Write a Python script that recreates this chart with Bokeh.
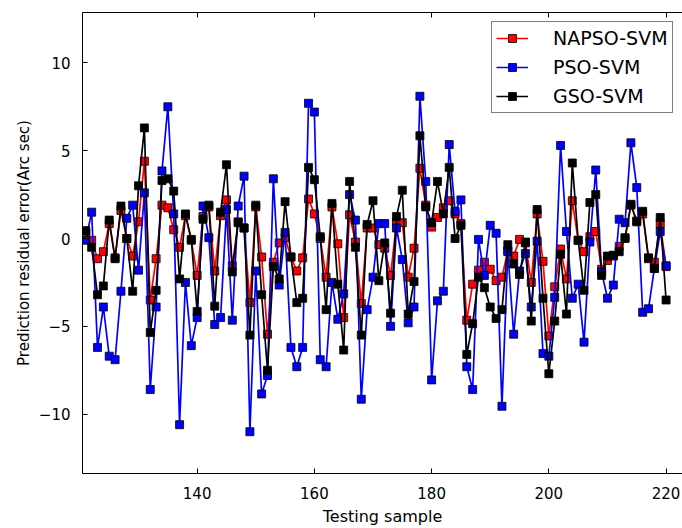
from bokeh.plotting import figure
from bokeh.models import (Range1d, LinearAxis, SingleIntervalTicker, Legend,
                          LegendItem, CustomJSTickFormatter)
from bokeh.embed import file_html
from bokeh.resources import INLINE

# ---------------- data ----------------
samples = list(range(121, 221))

napso = [0.3, -0.1, -1.15, -0.75, 0.85, -1.1, 1.6, 0.0, -1.0, 0.95,
         4.4, -3.5, -1.15, 1.9, 1.75, 0.5, -0.5, 1.3, -0.1, -2.1,
         1.25, 1.8, -1.85, 1.3, 2.2, -1.55, 0.95, 0.6, -3.65, 1.8,
         -1.05, -5.45, -1.35, -0.25, 0.05, -1.05, -1.85, -1.1, 2.25, 1.4,
         0.0, -2.2, 1.8, -0.3, -4.5, 1.35, -0.2, -3.7, 0.6, 0.6,
         -0.35, -0.55, -2.1, 0.9, 0.9, -2.2, -0.55, 4.0, 1.9, 0.65,
         1.2, 1.75, 2.15, 1.4, 0.85, -4.65, -2.6, -1.8, -1.35, -1.75,
         -2.4, -2.2, -0.7, -1.0, -0.05, -0.25, -2.5, 1.4, -1.3, -5.55,
         -2.75, -0.6, -2.3, 2.15, -0.1, -0.75, 0.1, 0.4, -1.75, -1.25,
         -1.0, -0.45, 0.0, 1.9, 1.0, 1.4, -1.15, -1.35, 0.85, -1.6]

pso = [-0.1, 1.5, -6.2, -3.9, -6.7, -6.9, -3.0, 1.15, 1.9, -1.8,
       2.6, -8.6, -3.9, 3.85, 7.5, 1.4, -10.6, -2.5, -6.1, -4.5,
       1.85, 0.05, -4.9, -4.5, 1.65, -4.65, 1.85, 3.55, -11.0, -1.85,
       -8.85, -7.8, 3.4, -2.65, 0.35, -6.2, -7.3, -6.2, 7.7, 7.2,
       -6.9, -7.3, -2.5, -4.6, -3.15, 2.5, 1.05, -9.15, -4.05, -2.2,
       0.85, 0.85, -5.0, 0.6, -1.2, -4.8, -3.9, 8.1, 3.25, -8.05,
       -3.55, -3.0, 5.35, 1.55, 2.2, -7.3, -8.6, -0.05, -2.1, 0.75,
       0.3, -9.55, -0.75, -5.45, -1.85, -0.85, -3.9, -0.15, -6.55, -6.7,
       -3.35, 5.3, 0.4, -3.4, -2.6, -5.9, -0.2, 3.9, -1.9, -3.4,
       -2.65, 1.1, 0.9, 5.45, 2.9, -4.2, -4.0, -1.7, 0.4, -1.55]

gso = [0.45, -0.5, -3.2, -2.7, 1.05, -1.15, 1.85, 0.0, -3.0, 3.0,
       6.3, -5.35, -2.95, 3.3, 3.4, 2.7, -2.3, 1.4, -0.05, -4.15,
       1.1, 1.9, -3.85, 1.5, 4.2, -1.9, 0.9, 0.6, -5.5, 1.9,
       -3.2, -7.5, -1.6, -2.3, 2.1, -1.05, -3.65, -3.4, 4.05, 3.35,
       0.1, -4.05, 2.0, -2.6, -6.35, 3.25, -0.5, -5.5, 0.8, 2.15,
       -2.4, -0.25, -4.25, 1.25, 2.75, -4.3, -2.45, 5.85, 1.8, 0.9,
       3.25, 1.4, 4.05, 0.0, 0.75, -6.6, -4.85, -2.2, -2.8, -3.9,
       -4.55, -4.05, -0.35, -1.45, -2.05, -0.2, -4.7, 1.65, -3.4, -7.7,
       -4.7, -0.9, -4.3, 4.3, -0.1, -2.95, 2.05, 2.5, -2.1, -1.0,
       -0.95, -0.75, 0.05, 1.95, 0.95, 1.55, -1.1, -1.7, 1.2, -3.5]

series_names = ["NAPSO-SVM", "PSO-SVM", "GSO-SVM"]
series_colors = ["#ff0000", "#0000ff", "#000000"]
x_label = "Testing sample"
y_label = "Prediction residual error(Arc sec)"

FONT = "DejaVu Sans"

p = figure(width=682, height=528, output_backend="svg", toolbar_location=None,
           x_range=Range1d(120.44, 222.8), y_range=Range1d(-13.38, 12.87),
           min_border_left=82, min_border_right=0, min_border_top=12,
           min_border_bottom=50, background_fill_color="white",
           border_fill_color="white")
p.outline_line_color = None
p.xgrid.visible = False
p.ygrid.visible = False

items = []
for vals, name, col in zip([napso, pso, gso], series_names, series_colors):
    ln = p.line(samples, vals, line_color=col, line_width=1.7)
    sc = p.scatter(samples, vals, marker="square", size=8, fill_color=col,
                   line_color="black", line_width=0.8)
    items.append(LegendItem(label=name, renderers=[ln, sc]))


def style_axis(ax):
    ax.axis_line_color = "black"
    ax.axis_line_width = 1
    ax.major_tick_in = 5
    ax.major_tick_out = 0
    ax.minor_tick_line_color = None
    ax.major_tick_line_color = "black"
    ax.major_label_text_font = FONT
    ax.major_label_text_font_size = "15px"
    ax.major_label_text_color = "black"
    ax.axis_label_text_font = FONT
    ax.axis_label_text_font_size = "15px"
    ax.axis_label_text_font_style = "normal"
    ax.axis_label_text_color = "black"


xax = p.xaxis[0]
xax.ticker = SingleIntervalTicker(interval=20)
style_axis(xax)
xax.major_label_standoff = 9
xax.axis_label = x_label
xax.axis_label_text_font_size = "16px"
xax.axis_label_standoff = 5

yax = p.yaxis[0]
yax.ticker = SingleIntervalTicker(interval=5)
style_axis(yax)
yax.major_label_standoff = 8
yax.axis_label = y_label
yax.axis_label_standoff = 3

top = LinearAxis(ticker=SingleIntervalTicker(interval=20),
                 formatter=CustomJSTickFormatter(code="return ''"))
style_axis(top)
top.major_label_standoff = 0
top.major_label_text_font_size = "1px"
p.add_layout(top, "above")

legend = Legend(items=items, location=(409, 360))
legend.label_text_font = FONT
legend.label_text_font_size = "19px"
legend.label_text_color = "black"
legend.glyph_width = 32
legend.glyph_height = 20
legend.label_height = 24
legend.label_standoff = 25
legend.spacing = 5
legend.padding = 4
legend.margin = 0
legend.border_line_color = "black"
legend.border_line_width = 1
legend.background_fill_color = "white"
legend.background_fill_alpha = 1
p.add_layout(legend)

open("out.html", "w").write(file_html(p, INLINE))
